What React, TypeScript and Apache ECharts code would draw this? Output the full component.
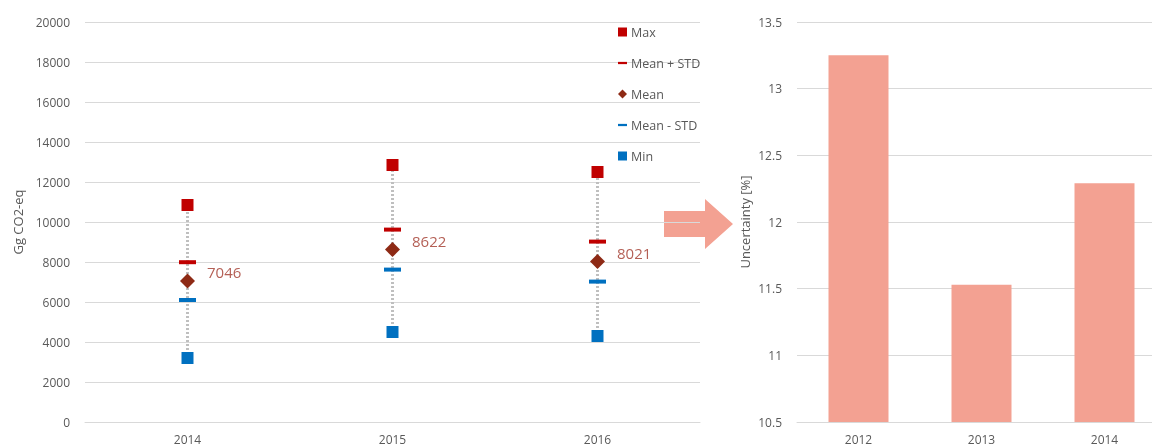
import React, { useEffect, useRef } from "react";
import * as echarts from "echarts";

const leftCategories = ["2014", "2015", "2016"];
const maxValues = [10850, 12850, 12500];
const meanPlusStd = [7990, 9620, 9020];
const meanValues = [7046, 8622, 8021];
const meanMinusStd = [6100, 7620, 7020];
const minValues = [3200, 4500, 4300];

const rightCategories = ["2012", "2013", "2014"];
const uncertainty = [13.25, 11.53, 12.29];

const TEXT = "#595959";
const GRID = "#d9d9d9";
const FONT = "'Open Sans', 'Noto Sans', sans-serif";
const RED = "#C00000";
const BLUE = "#0070C0";
const BROWN = "#8E2A15";
const SALMON = "#F3A192";

export default function App() {
  const ref = useRef<HTMLDivElement>(null);
  useEffect(() => {
    if (!ref.current) return;
    const chart = echarts.init(ref.current, undefined, { renderer: "svg" });
    const rangeData = leftCategories.map((_, i) => [i, minValues[i], maxValues[i]]);
    const dash = "path://M0,0 L12,0 L12,3 L0,3 Z";
    chart.setOption({
      animation: false,
      textStyle: { fontFamily: FONT, color: TEXT },
      legend: {
        orient: "vertical",
        left: 618,
        top: 25,
        padding: 0,
        itemGap: 17,
        itemWidth: 9,
        itemHeight: 9,
        textStyle: { fontSize: 12.5, color: TEXT, fontFamily: FONT, lineHeight: 14, padding: [0, 0, 0, -1] },
        data: [
          { name: "Max", icon: "rect" },
          { name: "Mean + STD", icon: dash },
          { name: "Mean", icon: "diamond" },
          { name: "Mean - STD", icon: dash },
          { name: "Min", icon: "rect" },
        ],
      },
      grid: [
        { left: 85, top: 22, width: 615, height: 400 },
        { left: 797, top: 22, width: 369, height: 400 },
      ],
      xAxis: [
        {
          type: "category",
          gridIndex: 0,
          data: leftCategories,
          axisLine: { lineStyle: { color: GRID } },
          axisTick: { show: false },
          axisLabel: { color: TEXT, fontSize: 12, margin: 11, fontFamily: FONT },
        },
        {
          type: "category",
          gridIndex: 1,
          data: rightCategories,
          axisLine: { lineStyle: { color: GRID } },
          axisTick: { show: false },
          axisLabel: { color: TEXT, fontSize: 12, margin: 11, fontFamily: FONT },
        },
      ],
      yAxis: [
        {
          type: "value",
          gridIndex: 0,
          min: 0,
          max: 20000,
          interval: 2000,
          name: "Gg CO2-eq",
          nameLocation: "middle",
          nameGap: 60,
          nameTextStyle: { color: TEXT, fontSize: 13, fontFamily: FONT },
          axisLine: { show: false },
          axisTick: { show: false },
          axisLabel: {
            color: TEXT,
            fontSize: 12,
            margin: 15,
            fontFamily: FONT,
            formatter: (v: number) => String(v),
          },
          splitLine: { lineStyle: { color: GRID } },
        },
        {
          type: "value",
          gridIndex: 1,
          min: 10.5,
          max: 13.5,
          interval: 0.5,
          name: "Uncertainty [%]",
          nameLocation: "middle",
          nameGap: 46,
          nameTextStyle: { color: TEXT, fontSize: 13, fontFamily: FONT },
          axisLine: { show: false },
          axisTick: { show: false },
          axisLabel: { color: TEXT, fontSize: 12, margin: 15, fontFamily: FONT },
          splitLine: { lineStyle: { color: GRID } },
        },
      ],
      series: [
        {
          type: "custom",
          name: "range",
          xAxisIndex: 0,
          yAxisIndex: 0,
          data: rangeData,
          encode: { x: 0, y: [1, 2] },
          z: 1,
          renderItem: (params: any, api: any) => {
            const x = api.value(0);
            const p1 = api.coord([x, api.value(1)]);
            const p2 = api.coord([x, api.value(2)]);
            return {
              type: "line",
              shape: { x1: p1[0], y1: p1[1], x2: p2[0], y2: p2[1] },
              style: { stroke: "#BFBFBF", lineWidth: 3, lineDash: [2, 2] },
            };
          },
        },
        {
          type: "scatter",
          name: "Max",
          xAxisIndex: 0,
          yAxisIndex: 0,
          data: maxValues,
          symbol: "rect",
          symbolSize: 12,
          itemStyle: { color: RED, opacity: 1 },
          z: 3,
        },
        {
          type: "scatter",
          name: "Mean + STD",
          xAxisIndex: 0,
          yAxisIndex: 0,
          data: meanPlusStd,
          symbol: "rect",
          symbolSize: [17, 4],
          itemStyle: { color: RED, opacity: 1 },
          z: 3,
        },
        {
          type: "scatter",
          name: "Mean",
          xAxisIndex: 0,
          yAxisIndex: 0,
          data: meanValues,
          symbol: "diamond",
          symbolSize: 15,
          itemStyle: { color: BROWN, opacity: 1 },
          label: {
            show: true,
            position: "right",
            distance: 12,
            offset: [0, -9],
            color: "#B45F55",
            fontSize: 15,
            fontFamily: FONT,
          },
          z: 3,
        },
        {
          type: "scatter",
          name: "Mean - STD",
          xAxisIndex: 0,
          yAxisIndex: 0,
          data: meanMinusStd,
          symbol: "rect",
          symbolSize: [17, 4],
          itemStyle: { color: BLUE, opacity: 1 },
          z: 3,
        },
        {
          type: "scatter",
          name: "Min",
          xAxisIndex: 0,
          yAxisIndex: 0,
          data: minValues,
          symbol: "rect",
          symbolSize: 12,
          itemStyle: { color: BLUE, opacity: 1 },
          z: 3,
        },
        {
          type: "bar",
          name: "Uncertainty",
          xAxisIndex: 1,
          yAxisIndex: 1,
          data: uncertainty,
          barWidth: 60,
          itemStyle: { color: SALMON },
        },
      ],
      graphic: [
        {
          type: "polygon",
          shape: {
            points: [
              [664, 211],
              [705, 211],
              [705, 199],
              [733, 224],
              [705, 249],
              [705, 237],
              [664, 237],
            ],
          },
          style: { fill: SALMON },
        },
      ],
    });
    return () => chart.dispose();
  }, []);
  return (
    <div style={{ position: "fixed", left: 0, top: 0, width: 1152, height: 446, overflow: "hidden" }}>
      <div ref={ref} style={{ width: 1170, height: 446 }} />
    </div>
  );
}
